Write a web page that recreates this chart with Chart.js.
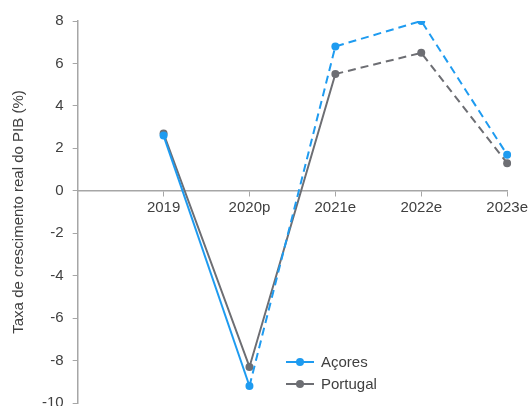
<!DOCTYPE html>
<html>
<head>
<meta charset="utf-8">
<script src="https://cdn.jsdelivr.net/npm/chart.js@4"></script>
<style>
  html, body { margin:0; padding:0; background:#fff; overflow:hidden; }
  #wrap { position:relative; width:531px; height:421px; }
</style>
</head>
<body>
<div id="wrap"><canvas id="chart"></canvas></div>
<script>
// first slot is empty: the y axis sits one category to the left of 2019
const years = ['', '2019', '2020p', '2021e', '2022e', '2023e'];
const acores = [null, 2.6, -9.2, 6.8, 8.0, 1.7];
const portugal = [null, 2.7, -8.3, 5.5, 6.5, 1.3];
// index from which the line turns dashed (projections)
const dashFromAcores = 2;
const dashFromPortugal = 3;

const BLUE = '#1e9bf0';
const GREY = '#6d6e73';
const TEXT = '#404040';
const AXIS = '#a6a6a6';
const FONT = '"Liberation Sans", Arial, sans-serif';

const dashAfter = from => ({ borderDash: ctx => ctx.p0DataIndex >= from ? [8, 5] : undefined });

// legend drawn inside the plot, lower right, with line + dot symbols
const innerLegend = {
  id: 'innerLegend',
  afterDraw(chart) {
    const c = chart.ctx;
    const x0 = 286, y0 = 362, gap = 22;
    c.save();
    c.font = '15px ' + FONT;
    c.textBaseline = 'middle';
    chart.data.datasets.forEach((ds, i) => {
      const y = y0 + i * gap;
      c.strokeStyle = ds.borderColor;
      c.lineWidth = 2;
      c.beginPath(); c.moveTo(x0, y); c.lineTo(x0 + 28, y); c.stroke();
      c.fillStyle = ds.borderColor;
      c.beginPath(); c.arc(x0 + 14, y, 4, 0, Math.PI * 2); c.fill();
      c.fillStyle = TEXT;
      c.fillText(ds.label, x0 + 35, y + 1);
    });
    c.restore();
  }
};

new Chart(document.getElementById('chart'), {
  type: 'line',
  data: {
    labels: years,
    datasets: [
      { label: 'Açores', data: acores, borderColor: BLUE, backgroundColor: BLUE,
        borderWidth: 2, pointRadius: 4, pointBorderWidth: 0, segment: dashAfter(dashFromAcores) },
      { label: 'Portugal', data: portugal, borderColor: GREY, backgroundColor: GREY,
        borderWidth: 2, pointRadius: 4, pointBorderWidth: 0, segment: dashAfter(dashFromPortugal) }
    ]
  },
  options: {
    responsive: true,
    maintainAspectRatio: false,
    animation: false,
    layout: { padding: { top: 21, left: 10, right: 0, bottom: 0 } },
    plugins: { legend: { display: false }, tooltip: { enabled: false } },
    scales: {
      x: {
        position: { y: 0 },
        offset: false,
        grid: { display: true, drawOnChartArea: false, drawTicks: true, tickLength: 5, color: AXIS },
        border: { color: AXIS, width: 1.5 },
        ticks: { color: TEXT, font: { size: 15, family: FONT }, padding: 3, maxRotation: 0 }
      },
      y: {
        min: -10, max: 8,
        grid: { display: true, drawOnChartArea: false, drawTicks: true, tickLength: 5, color: AXIS },
        border: { color: AXIS, width: 1.5 },
        ticks: { stepSize: 2, color: TEXT, font: { size: 15, family: FONT }, padding: 9 },
        title: { display: true, text: 'Taxa de crescimento real do PIB (%)', color: TEXT,
                 font: { size: 15, family: FONT }, padding: { top: 0, bottom: 5 } }
      }
    }
  },
  plugins: [innerLegend]
});
</script>
</body>
</html>
